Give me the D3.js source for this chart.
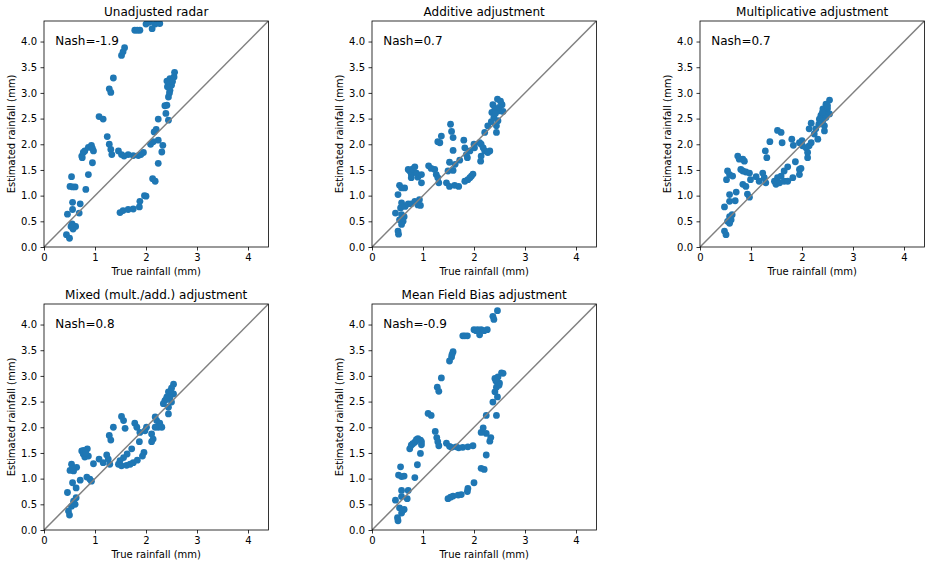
<!DOCTYPE html>
<html><head><meta charset="utf-8">
<script src="https://cdn.jsdelivr.net/npm/d3@7"></script>
<style>
body{margin:0;background:#fff;}
text{font-family:"DejaVu Sans",sans-serif;fill:#000;}
</style></head>
<body><svg id="c" width="936" height="568"></svg>
<script>
const titles = ["Unadjusted radar","Additive adjustment","Multiplicative adjustment","Mixed (mult./add.) adjustment","Mean Field Bias adjustment"];
const nashLabels = ["Nash=-1.9","Nash=0.7","Nash=0.7","Nash=0.8","Nash=-0.9"];
const xTicks = [0,1,2,3,4];
const yTicks = [0,0.5,1,1.5,2,2.5,3,3.5,4];
const axisMax = 4.4;

const unadjusted = [[.44,.24],[.50,.17],[.53,.40],[.58,.41],[.62,.40],[.57,.35],[.55,.45],[.46,.64],[.56,.73],[.69,.66],[.56,.87],[.71,.84],[.51,1.18],[.61,1.17],[.56,1.17],[.54,1.37],[.82,1.12],[.87,1.41],[.95,1.64],[.74,1.77],[.77,1.84],[.80,1.87],[.87,1.94],[.93,1.98],[.97,1.87],[.75,1.74],[.95,1.92],
[1.08,2.54],[1.16,2.49],[1.24,2.15],[1.28,2.0],[1.31,1.90],[1.33,1.80],[1.46,1.87],[1.52,1.80],[1.65,1.80],[1.75,1.78],[1.85,1.78],[1.95,1.84],[1.57,1.77],[1.90,1.80],
[1.28,3.08],[1.31,3.01],[1.36,3.29],[1.52,3.73],[1.55,3.80],[1.58,3.88],[1.78,4.22],[1.88,4.22],[1.83,4.22],[2.0,4.34],[2.07,4.38],[2.18,4.34],[2.27,4.35],[2.12,4.25],[2.05,4.38],
[1.49,.67],[1.55,.71],[1.65,.73],[1.75,.74],[1.87,.78],[1.88,.89],[2.0,.99],[1.97,1.0],[2.13,1.33],[2.18,1.28],[2.24,1.63],
[2.09,2.0],[2.16,2.24],[2.24,2.08],[2.33,1.98],[2.31,1.85],[2.14,2.05],[2.20,2.29],[2.24,2.49],[2.44,2.47],[2.39,2.60],[2.37,2.75],[2.41,2.76],[2.44,2.92],[2.47,3.05],[2.50,3.15],[2.42,3.12],[2.41,3.23],[2.47,3.28],[2.55,3.31],[2.56,3.40],[2.52,3.22],[2.46,3.0]];

const additive = [[2.46,2.88],[2.52,2.84],[2.55,2.77],[2.37,2.77],[2.41,2.69],[2.35,2.62],[2.50,2.65],[2.57,2.64],[2.39,2.52],[2.47,2.46],[2.34,2.44],[2.44,2.36],[2.27,2.36],[2.21,2.23],[2.44,2.23],[2.42,2.60],[2.49,2.72],
[1.54,2.39],[1.56,2.25],[1.59,2.13],[1.36,2.16],[1.29,2.05],[1.33,2.03],[1.59,1.88],
[1.80,2.08],[1.82,1.93],[1.87,1.74],[2.0,2.0],[2.01,1.93],[2.11,2.03],[2.14,2.0],[2.18,1.93],[2.21,1.87],[2.31,1.87],[2.27,1.84],[2.14,1.77],[2.13,1.67],[1.92,1.87],[1.85,1.80],
[1.72,1.69],[1.63,1.61],[1.59,1.49],[1.49,1.48],[1.52,1.65],
[1.11,1.58],[1.16,1.53],[1.23,1.51],[1.26,1.41],[1.29,1.35],[1.31,1.25],
[1.46,1.25],[1.52,1.18],[1.62,1.20],[1.70,1.18],[1.82,1.28],[1.88,1.31],[1.95,1.38],[1.98,1.42],[1.92,1.35],
[0.71,1.51],[0.74,1.48],[0.77,1.42],[0.80,1.52],[0.84,1.56],[0.87,1.44],[0.77,1.35],[0.90,1.36],[0.97,1.41],[0.97,1.25],
[0.54,1.20],[0.58,1.15],[0.64,1.15],[0.51,1.02],
[.58,.86],[.56,.76],[.65,.79],[.71,.84],[.77,.84],[.84,.89],[.93,.92],[.90,.82],[.95,.81],
[.46,.66],[.58,.63],[.63,.59],[.54,.53],[.61,.50],[.58,.44],[.51,.31],[.52,.25]];

const multiplicative = [[2.54,2.86],[2.47,2.78],[2.41,2.69],[2.50,2.69],[2.44,2.59],[2.37,2.56],[2.54,2.59],[2.47,2.52],[2.34,2.49],[2.41,2.46],[2.33,2.39],[2.44,2.36],[2.18,2.41],[2.14,2.30],[2.27,2.30],[2.44,2.26],[2.24,2.20],[2.31,2.10],[2.18,2.03],[2.14,1.97],[2.40,2.62],[2.50,2.75],
[1.52,2.27],[1.59,2.23],[1.61,2.03],[1.37,2.05],[1.28,1.87],[1.31,1.74],
[1.80,2.10],[1.83,1.98],[1.95,2.03],[2.0,2.07],[2.01,1.97],[2.08,1.93],[2.11,1.84],[2.11,1.74],[1.87,1.66],[1.95,1.51],[1.98,1.53],
[1.72,1.56],[1.65,1.48],[1.59,1.38],[1.52,1.35],[1.46,1.28],[1.49,1.22],[1.56,1.25],[1.65,1.28],[1.72,1.28],[1.82,1.35],[1.95,1.41],
[1.10,1.37],[1.16,1.28],[1.23,1.44],[1.26,1.35],[1.29,1.25],
[0.74,1.77],[0.77,1.71],[0.84,1.71],[0.87,1.67],[0.80,1.51],[0.84,1.48],[0.90,1.46],[0.97,1.44],[0.99,1.31],[0.84,1.22],[0.90,1.18],[0.93,1.03],[0.97,0.97],
[0.54,1.48],[0.52,1.31],[0.58,1.41],[0.64,1.38],
[.58,1.02],[.71,1.07],[.58,.89],[.69,.90],[.48,.78],
[.58,.59],[.63,.63],[.54,.50],[.61,.53],[.58,.46],[.48,.31],[.51,.24]];

const mixed = [[2.54,2.84],[2.50,2.76],[2.44,2.69],[2.54,2.65],[2.41,2.59],[2.37,2.52],[2.47,2.59],[2.50,2.49],[2.34,2.46],[2.44,2.39],[2.44,2.26],[2.18,2.20],[2.21,2.13],[2.27,2.08],[2.31,2.0],[2.24,2.0],[2.18,2.0],[2.11,1.87],[2.14,1.77],[2.11,1.72],[2.40,2.55],[2.48,2.70],
[1.52,2.21],[1.56,2.13],[1.59,1.98],[1.36,2.0],[1.28,1.84],[1.31,1.75],
[1.78,2.08],[1.82,2.0],[1.88,1.90],[2.01,2.0],[1.98,1.93],[1.87,1.72],[1.96,1.51],[1.93,1.44],
[1.72,1.58],[1.63,1.48],[1.56,1.41],[1.49,1.35],[1.46,1.28],[1.52,1.25],[1.62,1.26],[1.69,1.28],[1.75,1.31],[1.83,1.36],
[1.08,1.38],[1.16,1.31],[1.23,1.46],[1.26,1.38],[1.29,1.28],
[.74,1.54],[.77,1.48],[.85,1.58],[.87,1.44],[.80,1.42],[.97,1.29],[.84,1.03],[.90,.99],[.93,.95],[.78,1.55],[.82,1.50],
[.54,1.28],[.51,1.16],[.58,1.15],[.64,1.22],[.56,1.20],
[.56,.92],[.71,.97],[.63,.82],[.46,.73],
[.58,.56],[.63,.63],[.54,.46],[.61,.50],[.48,.37],[.50,.29]];

const meanFieldBias = [[2.46,4.27],[2.37,4.16],[2.39,4.10],
[2.0,3.90],[2.07,3.90],[2.14,3.90],[2.26,3.90],[2.11,3.80],[2.20,3.88],[2.04,3.88],
[1.78,3.78],[1.87,3.78],[1.82,3.78],
[1.59,3.47],[1.56,3.37],[1.52,3.29],[1.57,3.42],
[1.36,2.96],[1.28,2.78],[1.31,2.70],
[1.10,2.27],[1.16,2.23],
[1.24,1.92],[1.27,1.80],[1.31,1.64],[1.29,1.72],
[1.46,1.69],[1.56,1.61],[1.65,1.62],[1.78,1.61],[1.88,1.62],[1.98,1.64],[1.52,1.63],[1.70,1.60],
[.74,1.58],[.77,1.65],[.84,1.71],[.90,1.78],[.95,1.75],[.97,1.66],[.95,1.49],[.80,1.68],[.87,1.76],[.97,1.72],
[.89,1.27],[.84,1.02],
[.56,1.23],[.52,1.07],[.58,1.04],[.63,1.05],
[.58,.77],[.71,.77],[.69,.61],[.46,.58],[.58,.65],
[.54,.43],[.63,.40],[.58,.33],[.50,.24],[.51,.18],[.60,.38],
[1.49,.61],[1.59,.66],[1.69,.68],[1.75,.69],[1.87,.75],[1.88,.81],[2.0,.92],[1.54,.64],
[2.14,1.20],[2.20,1.18],[2.24,1.46],
[2.31,1.73],[2.33,1.80],[2.24,1.88],[2.14,1.90],[2.18,1.99],[2.24,2.23],
[2.44,2.23],[2.37,2.49],[2.46,2.59],[2.41,2.69],[2.44,2.78],[2.50,2.86],[2.41,2.95],[2.47,2.98],[2.54,3.06],[2.57,3.05],[2.43,2.90],[2.49,2.82]];

const panelData = [unadjusted, additive, multiplicative, mixed, meanFieldBias];

const svg = d3.select("#c");
const W = 224.4, H = 226;
const lefts = [44, 372, 700];
const tops = [21, 304];
const color = "#1f77b4";

panelData.forEach((pts, i) => {
  const col = i % 3, row = Math.floor(i / 3);
  const g = svg.append("g").attr("transform", `translate(${lefts[col]},${tops[row]})`);
  const x = d3.scaleLinear().domain([0, axisMax]).range([0, W]);
  const y = d3.scaleLinear().domain([0, axisMax]).range([H, 0]);
  const cid = "clip" + i;
  g.append("clipPath").attr("id", cid).append("rect").attr("width", W).attr("height", H);

  const plot = g.append("g").attr("clip-path", `url(#${cid})`);
  plot.selectAll("circle").data(pts).enter().append("circle")
    .attr("cx", d => x(d[0])).attr("cy", d => y(d[1])).attr("r", 3.4).attr("fill", color);
  plot.append("line").attr("x1", x(0)).attr("y1", y(0)).attr("x2", x(axisMax)).attr("y2", y(axisMax))
    .attr("stroke", "#808080").attr("stroke-width", 1.5);

  const xa = g.append("g").attr("transform", `translate(0,${H})`)
    .call(d3.axisBottom(x).tickValues(xTicks).tickFormat(d3.format("d")).tickSize(3.5).tickPadding(3.5));
  const ya = g.append("g")
    .call(d3.axisLeft(y).tickValues(yTicks).tickFormat(d3.format(".1f")).tickSize(3.5).tickPadding(3.5));
  [xa, ya].forEach(a => {
    a.select(".domain").remove();
    a.selectAll("line").attr("stroke", "#000").attr("stroke-width", 0.8);
    a.selectAll("text").attr("font-size", 10).attr("font-family", "DejaVu Sans");
  });
  g.append("rect").attr("width", W).attr("height", H).attr("fill", "none")
    .attr("stroke", "#000").attr("stroke-width", 0.8);

  g.append("text").attr("x", W / 2).attr("y", -5.5).attr("text-anchor", "middle")
    .attr("font-size", 12).text(titles[i]);
  g.append("text").attr("x", W * 0.05).attr("y", H * 0.05 + 12.5)
    .attr("font-size", 12).text(nashLabels[i]);
  g.append("text").attr("x", W / 2).attr("y", H + 28).attr("text-anchor", "middle")
    .attr("font-size", 10).text("True rainfall (mm)");
  g.append("text").attr("transform", `translate(-29,${H / 2}) rotate(-90)`).attr("text-anchor", "middle")
    .attr("font-size", 10).text("Estimated rainfall (mm)");
});
</script></body></html>
